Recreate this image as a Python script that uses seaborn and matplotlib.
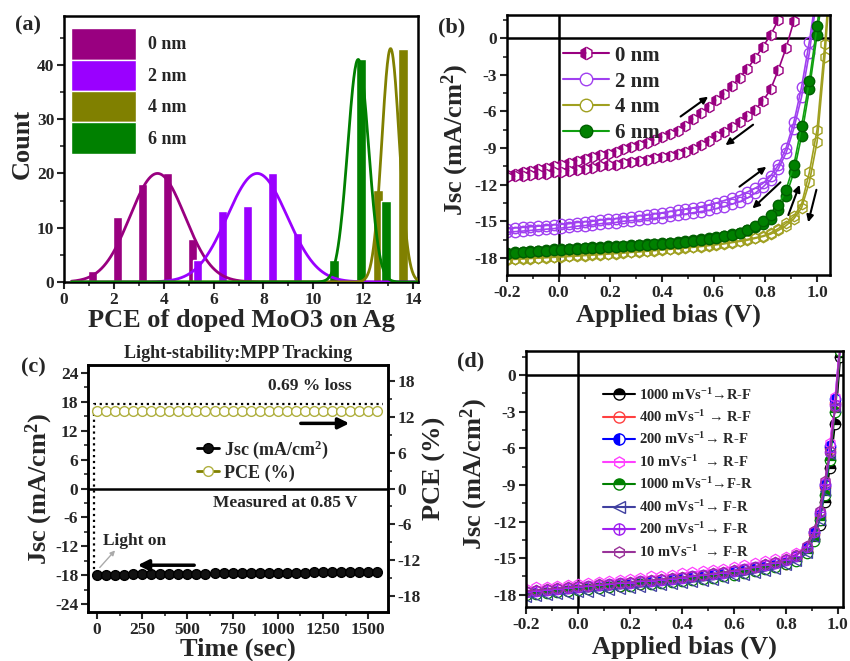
import numpy as np
import matplotlib
matplotlib.use('Agg')
import matplotlib.pyplot as plt
import seaborn as sns
from matplotlib.patches import Patch
from matplotlib.lines import Line2D
from matplotlib.ticker import MultipleLocator

sns.set_style('ticks')
plt.rcParams['font.family'] = ['Liberation Serif', 'DejaVu Serif']
plt.rcParams['font.weight'] = 'bold'
plt.rcParams['axes.labelweight'] = 'bold'
plt.rcParams['mathtext.fontset'] = 'custom'
plt.rcParams['mathtext.rm'] = 'Liberation Serif:bold'
plt.rcParams['mathtext.bf'] = 'Liberation Serif:bold'
plt.rcParams['mathtext.it'] = 'Liberation Serif:bold:italic'
plt.rcParams['mathtext.default'] = 'rm'
plt.rcParams['axes.linewidth'] = 1.8

# ---------------- (a) PCE histograms ----------------
thick_labels = ['0 nm', '2 nm', '4 nm', '6 nm']
thick_colors = ['#990080', '#9A00FF', '#808000', '#008000']
pce_bins_0 = [1.15, 2.15, 3.15, 4.15, 5.15]
pce_count_0 = [2, 12, 18, 20, 8]
pce_bins_2 = [5.37, 6.37, 7.37, 8.37, 9.37]
pce_count_2 = [4, 13, 14, 20, 9]
pce_bins_4 = [12.6, 13.6]
pce_count_4 = [17, 43]
pce_bins_6 = [10.85, 11.9, 12.9]
pce_count_6 = [4, 41, 15]
# gaussian fit parameters (center, height, sigma) per thickness
fit_center = [3.75, 7.75, 13.1, 11.8]
fit_height = [20, 20, 43, 41]
fit_sigma = [1.1, 1.2, 0.35, 0.42]

# ---------------- (b) J-V curves, forward / reverse ----------------
V_b = [-0.20, -0.17, -0.14, -0.11, -0.08, -0.05, -0.02, 0.01, 0.04, 0.07,
       0.10, 0.13, 0.16, 0.19, 0.22, 0.25, 0.28, 0.31, 0.34, 0.37,
       0.40, 0.43, 0.46, 0.49, 0.52, 0.55, 0.58, 0.61, 0.64, 0.67,
       0.70, 0.73, 0.76, 0.79, 0.82, 0.85, 0.88, 0.91, 0.94, 0.97,
       1.00, 1.03, 1.06]
j_0nm_fwd = [-11.2, -11.1, -11.0, -10.85, -10.7, -10.6, -10.5, -10.35, -10.2, -10.05,
             -9.9, -9.75, -9.6, -9.45, -9.3, -9.1, -8.9, -8.75, -8.55, -8.35,
             -8.1, -7.85, -7.6, -7.2, -6.65, -6.1, -5.6, -5.1, -4.6, -3.95,
             -3.25, -2.5, -1.65, -0.7, 0.25, 1.5, 3.0]
j_0nm_rev = [-11.4, -11.3, -11.25, -11.2, -11.15, -11.1, -11.0, -10.95, -10.85, -10.8,
             -10.7, -10.6, -10.5, -10.4, -10.35, -10.25, -10.15, -10.05, -9.95, -9.85,
             -9.75, -9.65, -9.5, -9.3, -9.05, -8.75, -8.4, -8.05, -7.65, -7.25,
             -6.85, -6.4, -5.85, -5.15, -4.2, -2.6, -0.8, 1.4, 4.0]
j_2nm_fwd = [-15.6, -15.55, -15.5, -15.45, -15.4, -15.35, -15.3, -15.25, -15.2, -15.1,
             -15.05, -15.0, -14.9, -14.85, -14.8, -14.7, -14.65, -14.55, -14.5, -14.4,
             -14.3, -14.2, -14.1, -14.0, -13.9, -13.8, -13.65, -13.5, -13.3, -13.1,
             -12.9, -12.6, -12.3, -11.9, -11.3, -10.4, -9.0, -6.9, -4.0, -0.3, 4.0]
j_2nm_rev = [-15.9, -15.85, -15.8, -15.75, -15.7, -15.65, -15.6, -15.55, -15.5, -15.4,
             -15.35, -15.3, -15.2, -15.15, -15.1, -15.0, -14.95, -14.9, -14.8, -14.75,
             -14.7, -14.6, -14.5, -14.4, -14.3, -14.2, -14.1, -13.95, -13.8, -13.6,
             -13.4, -13.1, -12.7, -12.2, -11.6, -10.7, -9.4, -7.4, -4.8, -1.2, 3.5]
j_4nm_fwd = [-18.1, -18.07, -18.04, -18.0, -17.97, -17.94, -17.9, -17.87, -17.83, -17.8,
             -17.76, -17.72, -17.68, -17.64, -17.6, -17.55, -17.5, -17.46, -17.41, -17.36,
             -17.3, -17.25, -17.2, -17.14, -17.08, -17.02, -16.95, -16.88, -16.8, -16.7,
             -16.6, -16.48, -16.35, -16.2, -15.95, -15.6, -15.15, -14.6, -13.6, -11.0,
             -7.5, -0.5, 8.0]
j_4nm_rev = [-18.15, -18.12, -18.09, -18.05, -18.02, -17.99, -17.95, -17.92, -17.88, -17.85,
             -17.81, -17.77, -17.73, -17.69, -17.65, -17.6, -17.55, -17.51, -17.46, -17.41,
             -17.35, -17.3, -17.25, -17.19, -17.13, -17.07, -17.0, -16.93, -16.85, -16.75,
             -16.65, -16.55, -16.4, -16.25, -16.05, -15.75, -15.35, -14.8, -13.9, -11.8,
             -8.5, -1.5, 7.0]
j_6nm_fwd = [-17.6, -17.55, -17.5, -17.45, -17.4, -17.35, -17.3, -17.28, -17.25, -17.2,
             -17.17, -17.13, -17.1, -17.06, -17.03, -17.0, -16.95, -16.92, -16.88, -16.84,
             -16.8, -16.75, -16.7, -16.62, -16.55, -16.47, -16.38, -16.28, -16.18, -16.07,
             -15.95, -15.75, -15.5, -15.2, -14.8, -14.1, -12.9, -11.0, -8.0, -4.2,
             0.3, 5.0]
j_6nm_rev = [-17.65, -17.6, -17.55, -17.5, -17.45, -17.4, -17.35, -17.32, -17.3, -17.25,
             -17.22, -17.18, -17.15, -17.11, -17.08, -17.05, -17.0, -16.97, -16.93, -16.89,
             -16.85, -16.8, -16.75, -16.67, -16.6, -16.52, -16.43, -16.33, -16.22, -16.1,
             -15.95, -15.7, -15.4, -15.0, -14.5, -13.7, -12.4, -10.4, -7.2, -3.5,
             1.0, 6.0]

# ---------------- (c) MPP tracking ----------------
time_s = [0, 50, 100, 150, 200, 250, 300, 350, 400, 450, 500, 550, 600, 650, 700, 750,
          800, 850, 900, 950, 1000, 1050, 1100, 1150, 1200, 1250, 1300, 1350, 1400, 1450,
          1500, 1550]
jsc_t = [-17.9, -17.9, -17.85, -17.85, -17.8, -17.8, -17.75, -17.75, -17.7, -17.7,
         -17.7, -17.65, -17.65, -17.6, -17.6, -17.6, -17.55, -17.55, -17.5, -17.5,
         -17.5, -17.45, -17.45, -17.45, -17.4, -17.4, -17.4, -17.35, -17.35, -17.3,
         -17.3, -17.25]
pce_t = [12.95, 12.95, 12.95, 12.95, 12.95, 12.95, 12.95, 12.95, 12.95, 12.95,
         12.95, 12.95, 12.95, 12.95, 12.95, 12.95, 12.95, 12.95, 12.95, 12.95,
         12.95, 12.95, 12.95, 12.95, 12.95, 12.95, 12.95, 12.95, 12.95, 12.95,
         12.95, 12.95]
light_on_t = [-15, -15, 1580]
light_on_j = [-17.9, 17.6, 17.6]

# ---------------- (d) scan-rate J-V ----------------
V_d = [-0.20, -0.16, -0.12, -0.08, -0.04, 0.00, 0.04, 0.08, 0.12, 0.16,
       0.20, 0.24, 0.28, 0.32, 0.36, 0.40, 0.44, 0.48, 0.52, 0.56,
       0.60, 0.64, 0.68, 0.72, 0.76, 0.80, 0.84, 0.88, 0.91, 0.93,
       0.95, 0.97, 0.99, 1.01]
scan_labels = ['1000 mVs$^{-1}$→R-F', '400 mVs$^{-1}$ → R-F', '200 mVs$^{-1}$→ R-F',
               '10 mVs$^{-1}$  → R-F', '1000 mVs$^{-1}$→F-R', '400 mVs$^{-1}$→ F-R',
               '200 mVs$^{-1}$→ F-R', '10 mVs$^{-1}$  → F-R']
scan_colors = ['#000000', '#FF4040', '#0000FF', '#FF40FF', '#008000', '#4040A0',
               '#A020F0', '#993399']
j_1000_rf = [-17.85, -17.75, -17.7, -17.6, -17.55, -17.5, -17.4, -17.35, -17.25, -17.2,
             -17.1, -17.05, -16.95, -16.9, -16.8, -16.75, -16.65, -16.55, -16.45, -16.35,
             -16.2, -16.05, -15.9, -15.7, -15.55, -15.35, -15.0, -14.5, -13.4, -12.3,
             -10.4, -7.6, -4.0, 1.5]
j_400_rf = [-17.9, -17.8, -17.75, -17.65, -17.6, -17.55, -17.45, -17.4, -17.3, -17.25,
            -17.15, -17.1, -17.0, -16.95, -16.85, -16.8, -16.7, -16.6, -16.5, -16.4,
            -16.3, -16.15, -16.0, -15.8, -15.65, -15.45, -15.1, -14.4, -13.0, -11.6,
            -9.2, -6.0, -2.3, 2.8]
j_200_rf = [-17.8, -17.7, -17.6, -17.55, -17.5, -17.4, -17.35, -17.25, -17.2, -17.1,
            -17.05, -16.95, -16.9, -16.8, -16.75, -16.65, -16.55, -16.45, -16.35, -16.25,
            -16.1, -15.95, -15.8, -15.6, -15.45, -15.2, -14.85, -14.2, -12.9, -11.4,
            -9.0, -5.8, -2.0, 3.0]
j_10_rf = [-17.5, -17.4, -17.35, -17.25, -17.2, -17.1, -17.0, -16.95, -16.85, -16.75,
           -16.7, -16.6, -16.5, -16.45, -16.35, -16.25, -16.15, -16.05, -15.95, -15.85,
           -15.7, -15.55, -15.4, -15.25, -15.1, -14.9, -14.6, -14.0, -12.8, -11.3,
           -8.8, -5.6, -1.8, 3.0]
j_1000_fr = [-18.0, -17.9, -17.85, -17.75, -17.7, -17.6, -17.55, -17.45, -17.4, -17.3,
             -17.25, -17.15, -17.1, -17.0, -16.95, -16.85, -16.75, -16.7, -16.6, -16.5,
             -16.35, -16.2, -16.05, -15.85, -15.7, -15.5, -15.2, -14.6, -13.6, -11.9,
             -9.8, -7.0, -3.0, 2.0]
j_400_fr = [-18.2, -18.1, -18.05, -17.95, -17.9, -17.8, -17.75, -17.65, -17.6, -17.5,
            -17.45, -17.35, -17.3, -17.2, -17.15, -17.05, -16.95, -16.85, -16.75, -16.65,
            -16.5, -16.4, -16.2, -16.05, -15.85, -15.6, -15.25, -14.6, -13.3, -11.9,
            -9.5, -6.5, -2.6, 2.5]
j_200_fr = [-17.75, -17.65, -17.6, -17.5, -17.45, -17.35, -17.3, -17.2, -17.15, -17.05,
            -17.0, -16.9, -16.85, -16.75, -16.7, -16.6, -16.5, -16.4, -16.3, -16.2,
            -16.05, -15.9, -15.75, -15.55, -15.4, -15.15, -14.8, -14.1, -12.9, -11.2,
            -8.9, -6.3, -2.5, 2.5]
j_10_fr = [-17.7, -17.6, -17.55, -17.45, -17.4, -17.3, -17.25, -17.15, -17.1, -17.0,
           -16.95, -16.85, -16.8, -16.7, -16.65, -16.55, -16.45, -16.35, -16.25, -16.15,
           -16.0, -15.85, -15.7, -15.5, -15.35, -15.1, -14.75, -14.0, -12.8, -11.1,
           -8.7, -6.2, -2.6, 2.6]

TICK = 12.5
LAB = 19


def style_axis(ax):
    ax.tick_params(which='major', direction='out', length=5, width=1.5, labelsize=TICK, pad=2)
    ax.tick_params(which='minor', direction='out', length=3, width=1.2)
    for s in ax.spines.values():
        s.set_linewidth(1.8)
        s.set_color('k')
    for t in ax.get_xticklabels() + ax.get_yticklabels():
        t.set_fontweight('bold')


fig = plt.figure(figsize=(8.5, 6.61), dpi=100)
W, H = 850, 661


def px_axes(l, t, r, b):
    return fig.add_axes([l / W, 1 - b / H, (r - l) / W, (b - t) / H])


ax_a = px_axes(64, 16, 418, 282)
ax_b = px_axes(507, 15, 830, 275)
ax_c = px_axes(88, 365, 388, 612)
ax_d = px_axes(526, 351, 843, 607)

# ----- (a) -----
bar_sets = [(pce_bins_0, pce_count_0, 0.36), (pce_bins_2, pce_count_2, 0.36),
            (pce_bins_4, pce_count_4, 0.4), (pce_bins_6, pce_count_6, 0.4)]
for (bx, bc, bw), col in zip(bar_sets, thick_colors):
    ax_a.bar(bx, bc, width=bw, color=col, zorder=2)
x_fit = np.linspace(0.3, 14.2, 600)
for c0, h0, s0, col in zip(fit_center, fit_height, fit_sigma, thick_colors):
    sns.lineplot(x=x_fit, y=h0 * np.exp(-(x_fit - c0) ** 2 / (2 * s0 ** 2)),
                 ax=ax_a, color=col, lw=2, zorder=3)
ax_a.set_xlim(0, 14.2)
ax_a.set_ylim(0, 49)
ax_a.xaxis.set_major_locator(MultipleLocator(2))
ax_a.xaxis.set_minor_locator(MultipleLocator(1))
ax_a.yaxis.set_major_locator(MultipleLocator(10))
ax_a.yaxis.set_minor_locator(MultipleLocator(5))
ax_a.set_xlabel('PCE of doped MoO3 on Ag', fontsize=LAB)
ax_a.set_ylabel('Count', fontsize=LAB)
ax_a.xaxis.set_label_coords(0.5, -0.1)
ax_a.yaxis.set_label_coords(-0.085, 0.52)
leg_a = ax_a.legend([Patch(facecolor=c) for c in thick_colors], thick_labels,
                    loc='upper left', bbox_to_anchor=(-0.012, 0.995), frameon=False,
                    handlelength=3.6, handleheight=2.3, labelspacing=0.0,
                    handletextpad=0.7, borderpad=0.1, prop={'size': 13, 'weight': 'bold'})
style_axis(ax_a)

# ----- (b) -----
b_series = [
    (j_0nm_fwd, '#990080', 'h', 'left', '#990080'),
    (j_0nm_rev, '#990080', 'h', 'left', '#990080'),
    (j_2nm_fwd, '#A040F0', 'o', 'none', '#A040F0'),
    (j_2nm_rev, '#A040F0', 'o', 'none', '#A040F0'),
    (j_4nm_fwd, '#A0A020', 'h', 'none', '#A0A020'),
    (j_4nm_rev, '#A0A020', 'h', 'none', '#A0A020'),
    (j_6nm_fwd, '#10A010', 'o', 'full', '#006000'),
    (j_6nm_rev, '#10A010', 'o', 'full', '#006000'),
]
for jj, col, mk, fs, mec in b_series:
    mfc = 'white' if fs == 'none' else ('#008000' if mk == 'o' else col)
    sns.lineplot(x=V_b[:len(jj)], y=jj, ax=ax_b, color=col, lw=1.2, sort=False,
                 estimator=None, marker=mk, markersize=7.5, fillstyle=fs,
                 markerfacecolor=mfc, markerfacecoloralt='white',
                 markeredgecolor=mec, markeredgewidth=1.0)
ax_b.axhline(0, color='k', lw=1.8, zorder=1)
ax_b.axvline(0, color='k', lw=1.8, zorder=1)
ax_b.set_xlim(-0.2, 1.05)
ax_b.set_ylim(-19.4, 1.9)
ax_b.xaxis.set_minor_locator(MultipleLocator(0.1))
ax_b.yaxis.set_minor_locator(MultipleLocator(1.5))
ax_b.set_xticks([-0.2, 0.0, 0.2, 0.4, 0.6, 0.8, 1.0])
ax_b.set_xticklabels(['-0.2', '0.0', '0.2', '0.4', '0.6', '0.8', '1.0'])
ax_b.set_yticks([0, -3, -6, -9, -12, -15, -18])
ax_b.set_yticklabels(['0', '-3', '-6', '-9', '-12', '-15', '-18'])
ax_b.set_xlabel('Applied bias (V)', fontsize=LAB)
ax_b.set_ylabel('Jsc (mA/cm$^2$)', fontsize=LAB)
ax_b.xaxis.set_label_coords(0.5, -0.11)
ax_b.yaxis.set_label_coords(-0.11, 0.52)
b_handles = [
    Line2D([], [], color='#990080', marker='h', markersize=9, fillstyle='left',
           markerfacecolor='#990080', markerfacecoloralt='white', markeredgecolor='#990080', lw=1.5),
    Line2D([], [], color='#A040F0', marker='o', markersize=9, markerfacecolor='white',
           markeredgecolor='#A040F0', lw=1.5),
    Line2D([], [], color='#A0A020', marker='o', markersize=9, markerfacecolor='white',
           markeredgecolor='#A0A020', lw=1.5),
    Line2D([], [], color='#10A010', marker='o', markersize=9, markerfacecolor='#008000',
           markeredgecolor='#006000', lw=1.5),
]
ax_b.legend(b_handles, thick_labels, loc='upper left', bbox_to_anchor=(0.135, 0.93),
            frameon=False, handlelength=2.2, labelspacing=0.28, handletextpad=0.3,
            borderpad=0.1, prop={'size': 15, 'weight': 'bold'})
b_arrows = [((0.463, -6.55), (0.587, -4.66)), ((0.761, -6.95), (0.637, -8.9)),
            ((0.691, -12.3), (0.812, -10.4)), ((0.866, -11.65), (0.742, -14.1)),
            ((0.885, -14.7), (0.936, -11.8)), ((1.0, -12.2), (0.963, -15.3))]
for st, en in b_arrows:
    ax_b.annotate('', xy=en, xytext=st,
                  arrowprops=dict(arrowstyle='-|>', color='k', lw=1.5, mutation_scale=10))
style_axis(ax_b)

# ----- (c) -----
ax_c2 = ax_c.twinx()
sns.lineplot(x=time_s, y=jsc_t, ax=ax_c, color='k', lw=1.2, marker='o', markersize=7,
             markerfacecolor='#111111', markeredgecolor='k', markeredgewidth=1.0,
             estimator=None, sort=False, zorder=3)
sns.lineplot(x=time_s, y=pce_t, ax=ax_c2, color='#B0B040', lw=1.0, marker='o',
             markersize=7, markerfacecolor='white', markeredgecolor='#B0B040',
             markeredgewidth=1.0, estimator=None, sort=False, zorder=3)
ax_c.plot(light_on_t, light_on_j, color='k', ls=':', lw=1.6, zorder=2)
ax_c.axhline(0, color='k', lw=1.8)
ax_c.set_xlim(-50, 1610)
ax_c.set_ylim(-25.6, 25.6)
ax_c2.set_ylim(-20.6, 20.6)
ax_c.xaxis.set_major_locator(MultipleLocator(250))
ax_c.xaxis.set_minor_locator(MultipleLocator(125))
ax_c.yaxis.set_minor_locator(MultipleLocator(3))
ax_c2.yaxis.set_minor_locator(MultipleLocator(3))
ax_c.set_yticks([-24, -18, -12, -6, 0, 6, 12, 18, 24])
ax_c.set_yticklabels(['-24', '-18', '-12', '-6', '0', '6', '12', '18', '24'])
ax_c2.set_yticks([-18, -12, -6, 0, 6, 12, 18])
ax_c2.set_yticklabels(['-18', '-12', '-6', '0', '6', '12', '18'])
ax_c.set_xlabel('Time (sec)', fontsize=LAB)
ax_c.set_ylabel('Jsc (mA/cm$^2$)', fontsize=LAB)
ax_c2.set_ylabel('PCE (%)', fontsize=LAB)
ax_c.xaxis.set_label_coords(0.5, -0.105)
ax_c.yaxis.set_label_coords(-0.11, 0.5)
ax_c2.yaxis.set_label_coords(1.115, 0.58)
ax_c.set_title('Light-stability:MPP Tracking', fontsize=13, fontweight='bold', pad=5)
ax_c.text(1179, 21.3, '0.69 % loss', fontsize=12.5, fontweight='bold', ha='center', va='center')
ax_c.text(1040, -3.1, 'Measured at 0.85 V', fontsize=12.5, fontweight='bold', ha='center', va='center')
ax_c.text(33, -10.8, 'Light on', fontsize=12.5, fontweight='bold', ha='left', va='center')
ax_c.annotate('', xy=(1411, 13.5), xytext=(1112, 13.5),
              arrowprops=dict(arrowstyle='-|>', color='k', lw=2.5, mutation_scale=16))
ax_c.annotate('', xy=(210, -15.9), xytext=(553, -15.9),
              arrowprops=dict(arrowstyle='-|>', color='k', lw=2.5, mutation_scale=16))
ax_c.annotate('', xy=(110, -12.4), xytext=(5, -16.8),
              arrowprops=dict(arrowstyle='-|>', color='#AAAAAA', lw=1.0, mutation_scale=7))
c_handles = [
    Line2D([], [], color='k', marker='o', markersize=7, markerfacecolor='#111111', lw=2),
    Line2D([], [], color='#808000', marker='o', markersize=7, markerfacecolor='white',
           markeredgecolor='#B0B040', lw=2),
]
ax_c.legend(c_handles, ['Jsc (mA/cm$^2$)', 'PCE (%)'], loc='upper left',
            bbox_to_anchor=(0.31, 0.77), frameon=False, handlelength=1.2,
            handletextpad=0.3, labelspacing=0.2, prop={'size': 13, 'weight': 'bold'})
style_axis(ax_c)
style_axis(ax_c2)

# ----- (d) -----
d_series = [j_1000_rf, j_400_rf, j_200_rf, j_10_rf, j_1000_fr, j_400_fr, j_200_fr, j_10_fr]
d_markers = [('o', 'top'), ('o', 'none'), ('o', 'left'), ('h', 'none'),
             ('o', 'top'), ('<', 'none'), ('o', 'none'), ('h', 'none')]
d_handles = []
for jj, col, (mk, fs) in zip(d_series, scan_colors, d_markers):
    mfc = 'white' if fs == 'none' else col
    sns.lineplot(x=V_d, y=jj, ax=ax_d, color=col, lw=1.2, sort=False, estimator=None,
                 marker=mk, markersize=7.5, fillstyle=fs, markerfacecolor=mfc,
                 markerfacecoloralt='white', markeredgecolor=col, markeredgewidth=0.9)
    hd = Line2D([], [], color=col, lw=1.5, marker=mk, markersize=8, fillstyle=fs,
                markerfacecolor=mfc, markerfacecoloralt='white', markeredgecolor=col)
    d_handles.append(hd)
# crossed circle for 200 mV/s F-R
sns.lineplot(x=V_d, y=j_200_fr, ax=ax_d, color=scan_colors[6], lw=0, sort=False,
             estimator=None, marker='+', markersize=7.5, markeredgecolor=scan_colors[6],
             markeredgewidth=0.9)
d_handles[6] = (d_handles[6], Line2D([], [], color=scan_colors[6], lw=0, marker='+',
                                     markersize=8, markeredgecolor=scan_colors[6]))
ax_d.axhline(0, color='k', lw=1.8, zorder=1)
ax_d.axvline(0, color='k', lw=1.8, zorder=1)
ax_d.set_xlim(-0.2, 1.02)
ax_d.set_ylim(-19.0, 1.96)
ax_d.xaxis.set_minor_locator(MultipleLocator(0.1))
ax_d.yaxis.set_minor_locator(MultipleLocator(1.5))
ax_d.set_xticks([-0.2, 0.0, 0.2, 0.4, 0.6, 0.8, 1.0])
ax_d.set_xticklabels(['-0.2', '0.0', '0.2', '0.4', '0.6', '0.8', '1.0'])
ax_d.set_yticks([0, -3, -6, -9, -12, -15, -18])
ax_d.set_yticklabels(['0', '-3', '-6', '-9', '-12', '-15', '-18'])
ax_d.set_xlabel('Applied bias (V)', fontsize=LAB)
ax_d.set_ylabel('Jsc (mA/cm$^2$)', fontsize=LAB)
ax_d.xaxis.set_label_coords(0.5, -0.11)
ax_d.yaxis.set_label_coords(-0.115, 0.52)
ax_d.legend(d_handles, scan_labels, loc='upper left', bbox_to_anchor=(0.215, 0.895),
            frameon=False, handlelength=2.2, labelspacing=0.45, handletextpad=0.3,
            borderpad=0.1, prop={'size': 10.5, 'weight': 'bold'})
style_axis(ax_d)

# panel letters
for lab, px, py in [('(a)', 28, 25), ('(b)', 452, 27), ('(c)', 33, 367), ('(d)', 471, 361)]:
    fig.text(px / W, 1 - py / H, lab, fontsize=16, fontweight='bold', ha='center', va='center')

fig.savefig('out.png', dpi=100)
